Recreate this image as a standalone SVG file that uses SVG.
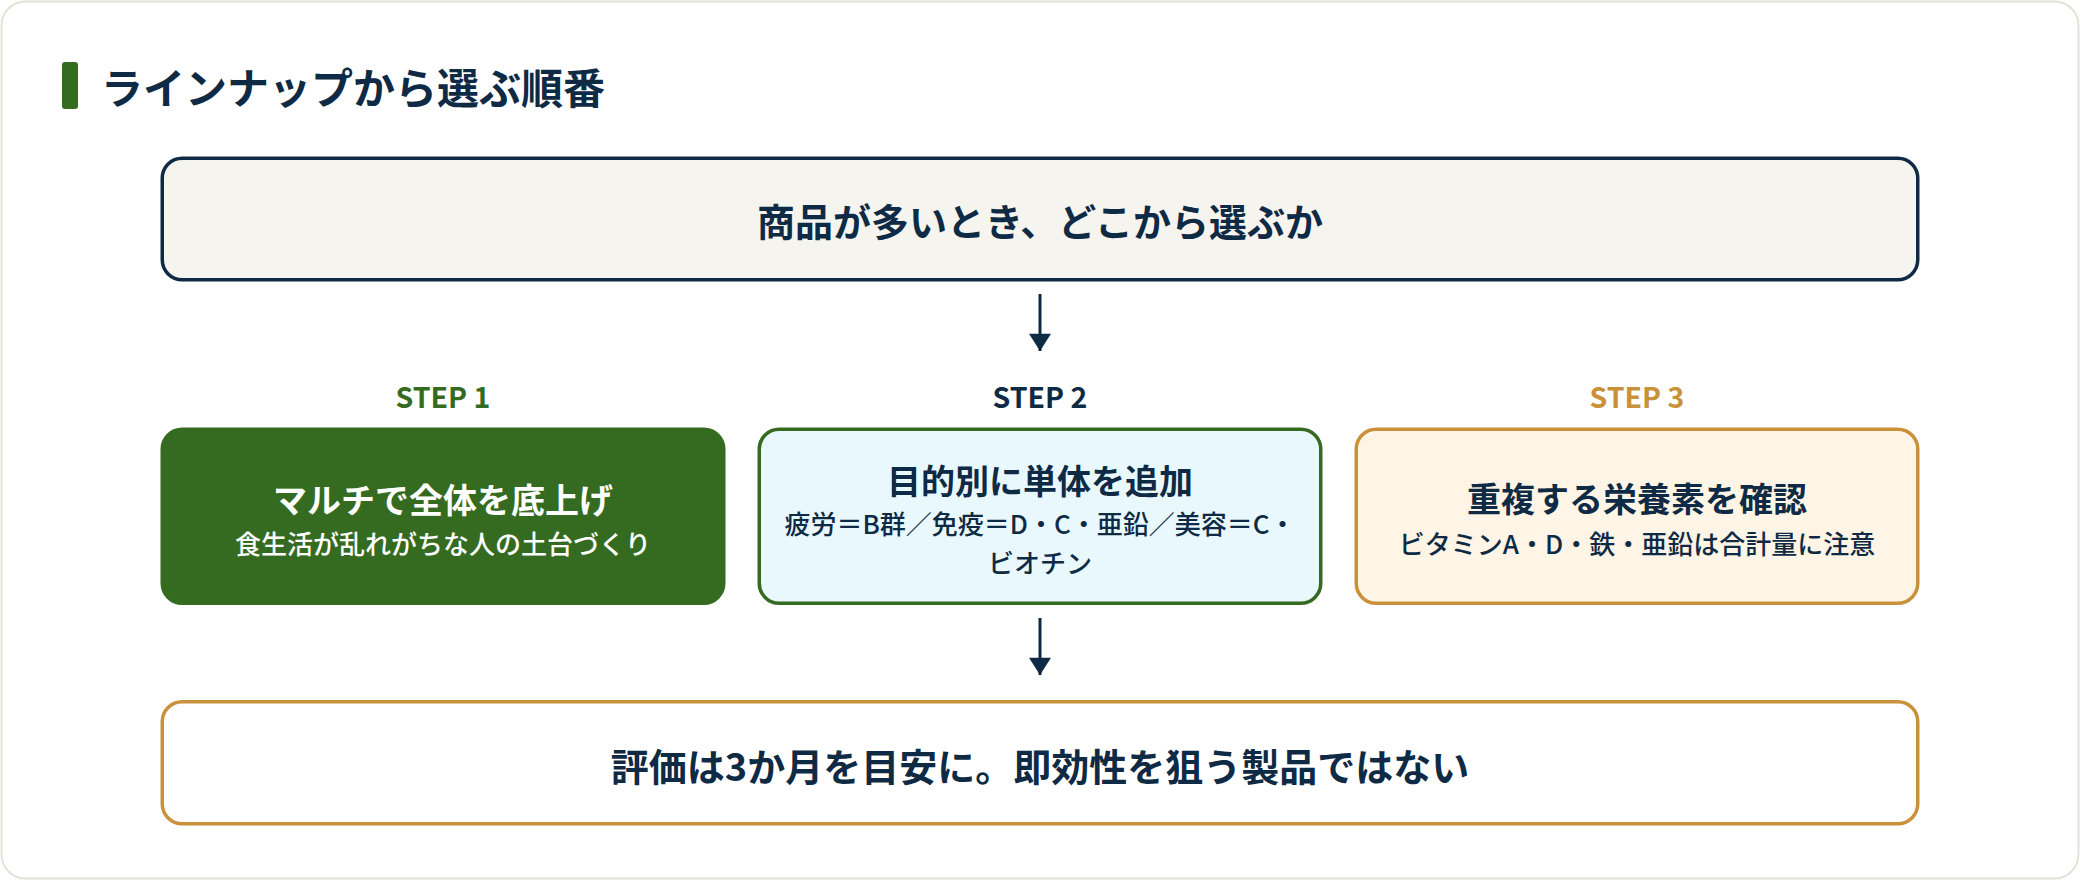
<svg xmlns="http://www.w3.org/2000/svg" width="2080" height="880" viewBox="0 0 2080 880">
  <style>
    text { font-family: "Noto Sans CJK JP", "Noto Sans", sans-serif; text-anchor: middle; }
    .h1 { font-size: 42px; font-weight: 700; fill: #0f2a44; text-anchor: start; }
    .main { font-size: 38px; font-weight: 700; fill: #0f2a44; }
    .step { font-size: 28.5px; font-weight: 700; }
    .ttl { font-size: 34px; font-weight: 700; fill: #0f2a44; }
    .sub { font-size: 26px; font-weight: 500; fill: #0f2a44; }
    .white { fill: #ffffff; }
    .box { stroke-width: 3.5; }
    .conn line { stroke: #0f2a44; stroke-width: 3; }
  </style>
  <defs>
    <marker id="arrow" markerUnits="userSpaceOnUse" markerWidth="28" markerHeight="22" refX="22" refY="14" orient="auto" viewBox="0 0 22 28">
      <path d="M0,0 L22,14 L0,28 Z" fill="#0f2a44"/>
    </marker>
  </defs>

  <rect x="1.5" y="1.5" width="2077" height="877" rx="24" fill="#ffffff" stroke="#e4e2d7" stroke-width="2"/>

  <g id="heading">
    <rect x="62" y="62" width="16" height="47" rx="3" fill="#356b20"/>
    <text class="h1" x="101" y="104">ラインナップから選ぶ順番</text>
  </g>

  <g id="start">
    <rect class="box" x="162.25" y="158.25" width="1755.5" height="121.5" rx="20" fill="#f5f4ef" stroke="#0f2a44"/>
    <text class="main" x="1040" y="236">商品が多いとき、どこから選ぶか</text>
  </g>

  <g id="step1">
    <text class="step" x="443" y="408" fill="#356b20">STEP 1</text>
    <rect class="box" x="162.25" y="429.25" width="561.5" height="174" rx="20" fill="#356b20" stroke="#356b20"/>
    <text class="ttl white" x="443" y="512.5">マルチで全体を底上げ</text>
    <text class="sub white" x="443" y="554">食生活が乱れがちな人の土台づくり</text>
  </g>

  <g id="step2">
    <text class="step" x="1040" y="408" fill="#0f2a44">STEP 2</text>
    <rect class="box" x="759.25" y="429.25" width="561.5" height="174" rx="20" fill="#e9f8fd" stroke="#356b20"/>
    <text class="ttl" x="1040" y="494">目的別に単体を追加</text>
    <text class="sub" x="1040" y="534">疲労＝B群／免疫＝D・C・亜鉛／美容＝C・</text>
    <text class="sub" x="1040" y="572.5">ビオチン</text>
  </g>

  <g id="step3">
    <text class="step" x="1637" y="408" fill="#c8913a">STEP 3</text>
    <rect class="box" x="1356.25" y="429.25" width="561.5" height="174" rx="20" fill="#fef5e6" stroke="#c8913a"/>
    <text class="ttl" x="1637" y="512">重複する栄養素を確認</text>
    <text class="sub" x="1637" y="553.5">ビタミンA・D・鉄・亜鉛は合計量に注意</text>
  </g>

  <g id="result">
    <rect class="box" x="162.25" y="701.75" width="1755.5" height="122" rx="20" fill="#ffffff" stroke="#c8913a"/>
    <text class="main" x="1040" y="780.5">評価は3か月を目安に。即効性を狙う製品ではない</text>
  </g>

  <g id="connectors" class="conn">
    <line x1="1040" y1="294" x2="1040" y2="351" marker-end="url(#arrow)"/>
    <line x1="1040" y1="618" x2="1040" y2="675" marker-end="url(#arrow)"/>
  </g>
</svg>
